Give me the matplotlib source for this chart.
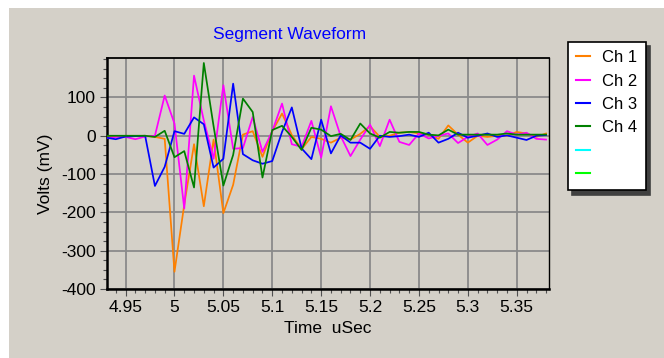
import numpy as np
import matplotlib
matplotlib.use("Agg")
import matplotlib.pyplot as plt
from matplotlib.patches import Rectangle
from matplotlib.lines import Line2D
from matplotlib.ticker import MultipleLocator, FixedLocator

plt.rcParams['font.family'] = ['Liberation Sans', 'DejaVu Sans']
plt.rcParams['axes.unicode_minus'] = False

# Sample times (uSec), 10 ns spacing
t_start = 4.93
t_step = 0.01
n_samples = 46
time_us = np.round(t_start + t_step * np.arange(n_samples), 2)

ch1 = [0, -2, 0, -1, 0, -3, -8, -355, -180, -22, -184, -10, -202, -128, 3, 12,
       -55, 12, 58, 2, -35, -3, -8, -18, -5, -10, 5, 25, -3, 0, 8, 10,
       6, 3, -8, 27, 3, -18, 0, -3, 0, 0, 10, 6, -3, 6]
ch2 = [-7, -3, -3, -9, -2, 0, 105, 32, -190, 157, 40, -60, 132, -34, -32, 49,
       -42, 12, 84, -22, -29, 39, -57, 77, -1, -53, -10, 29, -27, 42, -16, -24,
       6, -7, 0, 6, -19, -3, 6, -24, -10, 12, 3, 8, -8, -10]
ch3 = [-5, -9, -2, -1, 0, -131, -81, 12, 5, 48, 30, -83, -60, 136, -48, -64,
       -73, -66, 10, 74, -33, -61, 42, -46, 1, -18, -18, -34, 0, -3, -1, 3,
       -3, 8, -18, -8, 8, -5, 0, 6, -3, 1, -5, -11, 0, 2]
ch4 = [0, 0, 0, 0, 0, -3, 13, -56, -40, -135, 190, 25, -130, -50, 97, 62,
       -109, 15, 26, -3, -37, 21, 16, -1, 5, -11, 32, 6, -5, 10, 8, 10,
       10, 3, 1, 16, 3, 3, 3, 3, 3, 6, 3, 3, 3, 3]

channels = ["Ch 1", "Ch 2", "Ch 3", "Ch 4"]
series = [ch1, ch2, ch3, ch4]
colors = ["#FF8000", "#FF00FF", "#0000FF", "#008000"]
spare_colors = ["#00FFFF", "#00FF00"]

x_ticks = [4.95, 5.0, 5.05, 5.1, 5.15, 5.2, 5.25, 5.3, 5.35]
x_tick_labels = ["4.95", "5", "5.05", "5.1", "5.15", "5.2", "5.25", "5.3", "5.35"]
y_ticks = [-400, -300, -200, -100, 0, 100]

W, H = 664, 358
bg = "#D4D0C8"
fig = plt.figure(figsize=(W / 100, H / 100), dpi=100, facecolor="white")
fig.patches.append(Rectangle((9 / W, 0), 1 - 9 / W, 1 - 8 / H,
                             transform=fig.transFigure, facecolor=bg,
                             edgecolor="none", zorder=-10))

ax = fig.add_axes([107 / W, 1 - 289 / H, (549 - 107) / W, (289 - 58) / H])
ax.set_facecolor(bg)

for name, vals, c in zip(channels, series, colors):
    ax.plot(time_us, vals, color=c, lw=1.25, label=name, zorder=3)

ax.set_xlim(4.931, 5.383)
ax.set_ylim(-400, 203)

ax.xaxis.set_major_locator(FixedLocator(x_ticks))
ax.set_xticklabels(x_tick_labels)
ax.xaxis.set_minor_locator(MultipleLocator(0.01))
ax.yaxis.set_major_locator(FixedLocator(y_ticks))
ax.yaxis.set_minor_locator(MultipleLocator(25))

ax.grid(True, which="major", color="#8a8a8a", lw=1.3, zorder=1)
ax.set_axisbelow(True)

ax.tick_params(which="major", direction="out", length=5, width=0.8,
               color="#505050", labelsize=12.5, pad=3)
ax.tick_params(which="minor", direction="out", length=3, width=0.8,
               color="#505050")

for side, lw in (("left", 1.8), ("bottom", 1.8), ("top", 1.3), ("right", 1.0)):
    ax.spines[side].set_linewidth(lw)
    ax.spines[side].set_color("black")

ax.set_ylabel("Volts (mV)", fontsize=12.5, labelpad=6)
ax.set_xlabel("Time  uSec", fontsize=12.5, labelpad=4)
fig.text(290 / W, 1 - 35 / H, "Segment Waveform", color="#0000FF",
         fontsize=12.5, ha="center", va="center")

handles = [Line2D([], [], color=c, lw=1.5) for c in colors + spare_colors]
labels = channels + ["", ""]
leg = fig.legend(handles, labels, loc="upper left",
                 bbox_to_anchor=(568 / W, 1 - 42 / H),
                 bbox_transform=fig.transFigure, fontsize=12,
                 frameon=True, fancybox=False, framealpha=1,
                 edgecolor="black", facecolor="white",
                 handlelength=0.8, handletextpad=0.75, labelspacing=0.5,
                 borderpad=0.5, borderaxespad=0,
                 shadow={"ox": 3, "oy": -3, "facecolor": "#404040",
                         "edgecolor": "#404040", "alpha": 1})
leg.get_frame().set_linewidth(1.2)

fig.savefig("out.png", dpi=100, facecolor="white")
